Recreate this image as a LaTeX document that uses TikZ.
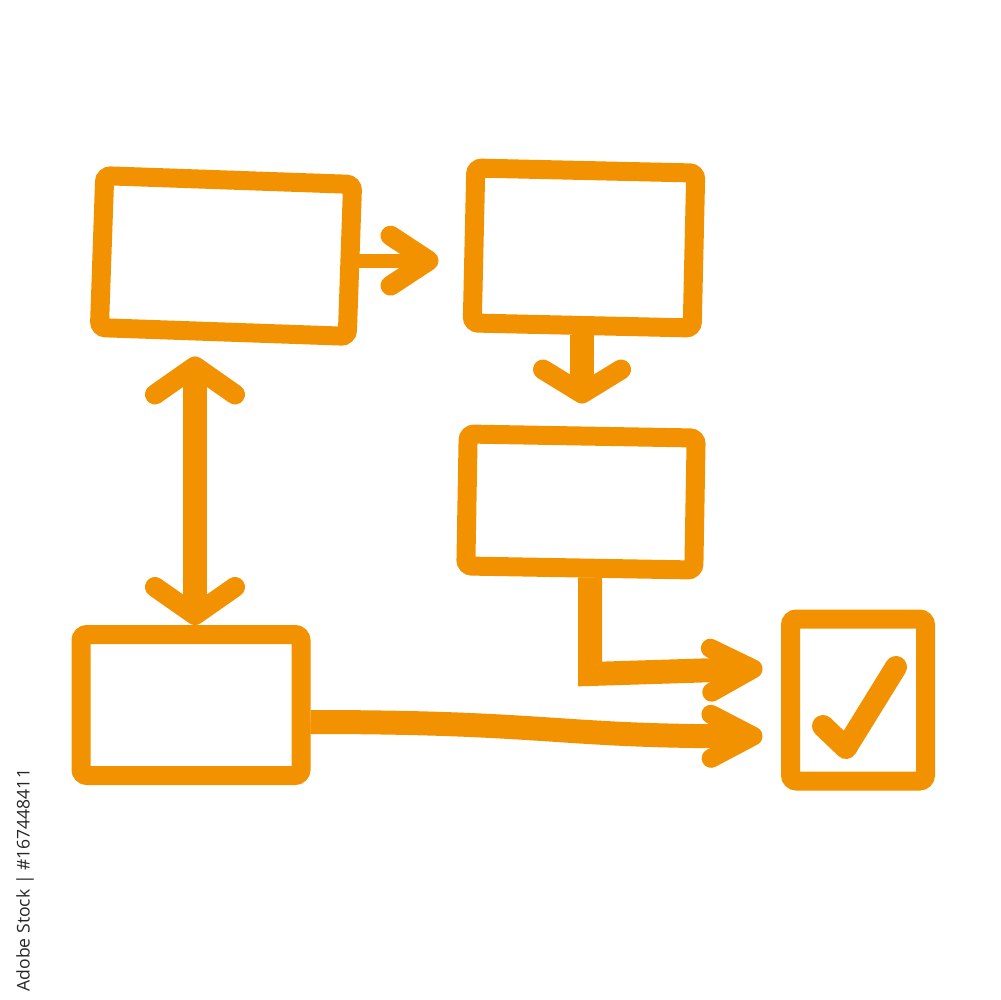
\documentclass[tikz,border=0pt]{standalone}
\usepackage{fontspec}
\newfontfamily\wmfont{Open Sans}
\usetikzlibrary{arrows.meta,calc}
\definecolor{og}{RGB}{242,146,0}
\tikzset{
  box/.style={draw=og, line width=1.9mm, rounded corners=0.6mm, inner sep=0pt},
  con/.style={draw=og, line width=2.4mm},
}
\begin{document}
\begin{tikzpicture}[x=0.1mm,y=-0.1mm]
\useasboundingbox (0,0) rectangle (1000,1000);
% boxes
\node[box, minimum width=24.8mm, minimum height=15.2mm, rotate=-2] (b1) at (226,256) {};
\node[box, minimum width=22.0mm, minimum height=15.5mm, rotate=-1.3] (b2) at (584,248) {};
\node[box, minimum width=22.8mm, minimum height=13.2mm, rotate=-1] (b3) at (581,502) {};
\node[box, minimum width=22.0mm, minimum height=14.1mm] (b4) at (191,705) {};
\node[box, minimum width=13.5mm, minimum height=16.2mm] (b5) at (858,700) {};
% check mark
\draw[og, line width=2.2mm, line cap=round, line join=round] (823,726) -- (846,748) -- (896,667);
% helper coordinates
\coordinate (dx) at (195,0);
\coordinate (elb) at (590,674);
\coordinate (ya) at (0,668);
\coordinate (yb) at (0,736);
\coordinate (yc) at (0,722);
% connectors
\draw[con, line width=1.4mm, -{Straight Barb[length=3.8mm,width=5mm,line width=2mm,round]}, shorten >=2.6mm]
  (b1.east) -- (b1.east -| b2.west);
\draw[con, {Straight Barb[length=2.8mm,width=8mm,line width=2mm,round]}-{Straight Barb[length=2.8mm,width=8mm,line width=2mm,round]}, shorten <=1.5mm, shorten >=0mm]
  (b1.south -| dx) -- (b4.north -| dx);
\draw[con, -{Straight Barb[length=2.4mm,width=7.8mm,line width=2mm,round]}, shorten >=2.3mm]
  (b2.south) -- (b2.south |- b3.north);
\draw[con, -{Straight Barb[length=4.2mm,width=4.4mm,line width=1.9mm,round]}, shorten >=1.85mm]
  (b3.south -| elb) -- (elb) -- (b5.west |- ya);
\draw[con, -{Straight Barb[length=4.2mm,width=4.4mm,line width=1.9mm,round]}, shorten >=1.85mm]
  (b4.east |- yc) .. controls (550,722) and (560,737) .. (b5.west |- yb);
% stock id
\node[rotate=90, anchor=west, inner sep=0pt, font=\wmfont\fontsize{5pt}{6pt}\selectfont, text=black!85] (wm) at (25,992) {Adobe Stock | \#167448411};
\end{tikzpicture}
\end{document}
